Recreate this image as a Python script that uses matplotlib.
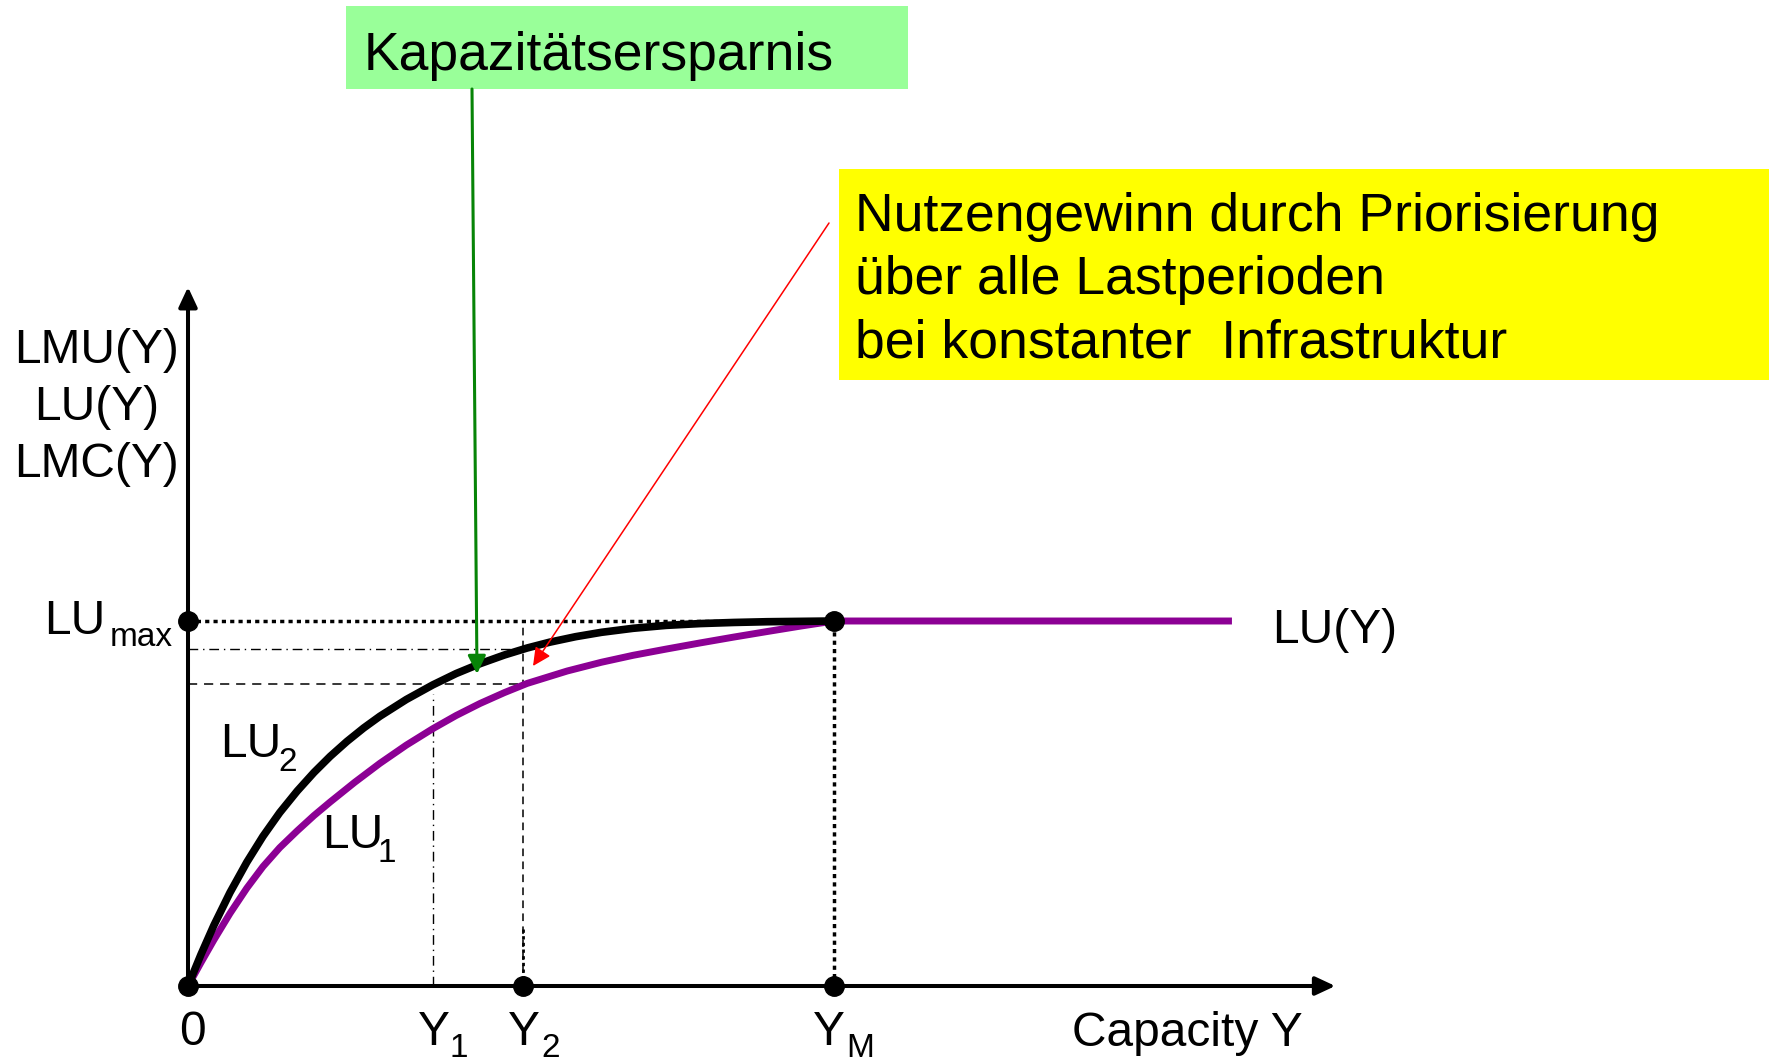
import matplotlib
matplotlib.use("Agg")
import matplotlib.pyplot as plt
from matplotlib.patches import Rectangle

plt.rcParams['font.family'] = ['Liberation Sans', 'DejaVu Sans']

# ---------------- data (normalised: Y_M = 1, LU_max = 1) ----------------
cap_lu2 = [0.0, 0.020, 0.040, 0.065, 0.091, 0.116, 0.142, 0.169, 0.195, 0.220,
           0.246, 0.272, 0.297, 0.338, 0.379, 0.415, 0.452, 0.490, 0.525, 0.560,
           0.600, 0.640, 0.689, 0.740, 0.793, 0.845, 0.896, 0.948, 1.0]
lu2 = [0.0, 0.086, 0.166, 0.256, 0.339, 0.410, 0.475, 0.534, 0.585, 0.629,
       0.670, 0.707, 0.739, 0.785, 0.825, 0.856, 0.883, 0.907, 0.926, 0.942,
       0.957, 0.969, 0.980, 0.988, 0.993, 0.996, 0.998, 0.999, 1.0]

cap_lu1 = [0.0, 0.020, 0.040, 0.065, 0.091, 0.116, 0.142, 0.169, 0.195, 0.220,
           0.258, 0.297, 0.338, 0.379, 0.415, 0.452, 0.490, 0.525, 0.587, 0.640,
           0.689, 0.740, 0.793, 0.845, 0.896, 0.948, 1.0, 1.616]
lu1 = [0.0, 0.064, 0.126, 0.199, 0.268, 0.327, 0.379, 0.425, 0.467, 0.504,
       0.558, 0.610, 0.660, 0.705, 0.741, 0.774, 0.804, 0.829, 0.863, 0.887,
       0.906, 0.923, 0.940, 0.956, 0.971, 0.986, 1.0, 1.0]

LU_MAX = 1.0
Y1, Y2, YM = 0.379, 0.519, 1.0
LEVEL_DASH = 0.827      # LU2(Y1) = LU1(Y2)
LEVEL_DASHDOT = 0.923   # LU2(Y2)
X_AXIS_END, Y_AXIS_END = 1.776, 1.915

dot_x = [0.0, 0.0, Y2, YM, YM]
dot_y = [0.0, LU_MAX, 0.0, 0.0, LU_MAX]

PURPLE = '#8C0094'
GREEN = '#078407'

# ---------------- figure / axes mapping ----------------
W, H = 1769, 1063
X0, Y0, SX, SY = 188, 986, 646, 365   # pixel position of origin and unit sizes

fig = plt.figure(figsize=(W / 100, H / 100), dpi=100)
ax = fig.add_axes([0, 0, 1, 1])
ax.set_xlim(-X0 / SX, (W - X0) / SX)
ax.set_ylim((Y0 - H) / SY, Y0 / SY)
ax.axis('off')


def P(px, py):
    """layout helper: pixel position -> data coords"""
    return (px - X0) / SX, (Y0 - py) / SY


# ---------------- boxes ----------------
gx0, gy0 = P(346, 89)
gx1, gy1 = P(908, 6)
ax.add_patch(Rectangle((gx0, gy0), gx1 - gx0, gy1 - gy0, facecolor='#99FF99',
                       edgecolor='none', zorder=1))
yx0, yy0 = P(839, 380)
yx1, yy1 = P(1769, 169)
ax.add_patch(Rectangle((yx0, yy0), yx1 - yx0, yy1 - yy0, facecolor='#FFFF00',
                       edgecolor='none', zorder=1))

# ---------------- guide lines ----------------
DOT = (0, (1.2, 1.2))
ax.plot([0, YM], [LU_MAX, LU_MAX], color='k', lw=2.5, ls=DOT,
        dash_capstyle='butt', zorder=2)
ax.plot([YM, YM], [0, LU_MAX], color='k', lw=2.5, ls=DOT,
        dash_capstyle='butt', zorder=2)
ax.plot([0, Y2], [LEVEL_DASHDOT, LEVEL_DASHDOT], color='k', lw=1.0,
        ls=(0, (7, 3.5, 1, 3.5)), zorder=2)
ax.plot([Y1, Y1], [0, 0.80], color='k', lw=1.0,
        ls=(0, (7, 3.5, 1, 3.5)), zorder=2)
ax.plot([0, Y2], [LEVEL_DASH, LEVEL_DASH], color='k', lw=1.1,
        ls=(0, (6, 4.5)), zorder=2)
ax.plot([Y2, Y2], [0, LU_MAX], color='k', lw=1.1,
        ls=(0, (5, 3.5)), zorder=2)
ax.plot([Y2, Y2], [0.02, 0.16], color='k', lw=2.0, ls=(0, (1.2, 1.2)),
        dash_capstyle='butt', zorder=2)

# ---------------- axes arrows ----------------
astyle = '-|>,head_length=0.6,head_width=0.28'
ax.annotate('', xy=(X_AXIS_END, 0), xytext=(0, 0),
            arrowprops=dict(arrowstyle=astyle, lw=2.9, color='k',
                            mutation_scale=20, shrinkA=0, shrinkB=0), zorder=3)
ax.annotate('', xy=(0, Y_AXIS_END), xytext=(0, 0),
            arrowprops=dict(arrowstyle=astyle, lw=2.9, color='k',
                            mutation_scale=20, shrinkA=0, shrinkB=0), zorder=3)

# ---------------- curves ----------------
ax.plot(cap_lu1, lu1, color=PURPLE, lw=5.0, solid_capstyle='butt',
        solid_joinstyle='round', zorder=4)
ax.plot(cap_lu2, lu2, color='k', lw=5.5, solid_capstyle='butt',
        solid_joinstyle='round', zorder=5)
ax.plot(dot_x, dot_y, 'o', color='k', ms=14, zorder=6, clip_on=False)

# ---------------- annotation arrows ----------------
ax.annotate('', xy=P(477, 674), xytext=P(472, 89),
            arrowprops=dict(arrowstyle='-|>,head_length=0.55,head_width=0.27',
                            lw=2.2, color=GREEN, mutation_scale=20,
                            shrinkA=0, shrinkB=0), zorder=7)
ax.annotate('', xy=P(533, 666), xytext=P(829, 223),
            arrowprops=dict(arrowstyle='-|>,head_length=0.55,head_width=0.27',
                            lw=1.1, color='red', mutation_scale=20,
                            shrinkA=0, shrinkB=0), zorder=7)

# ---------------- texts ----------------
BIG = 38.5
LAB = 34.5
SUB = 24


def T(px, py, s, size=LAB, ha='left'):
    x, y = P(px, py)
    ax.text(x, y, s, fontsize=size, ha=ha, va='baseline', color='k', zorder=8)


T(364, 70, 'Kapazitätsersparnis', BIG)
T(855, 231, 'Nutzengewinn durch Priorisierung', BIG)
T(855, 294, 'über alle Lastperioden', BIG)
T(855, 358, 'bei konstanter  Infrastruktur', BIG)

T(97, 363, 'LMU(Y)', ha='center')
T(97, 420, 'LU(Y)', ha='center')
T(97, 477, 'LMC(Y)', ha='center')

T(44, 634, 'LU')
T(110, 646, 'max', SUB)

T(220, 757, 'LU')
T(278, 771, '2', SUB)
T(322, 848, 'LU')
T(378, 862, '1', SUB)

T(192, 1045, '0', ha='center')
T(418, 1045, 'Y')
T(449, 1057, '1', SUB)
T(508, 1045, 'Y')
T(541, 1057, '2', SUB)
T(813, 1045, 'Y')
T(846, 1057, 'M', SUB)
T(1072, 1046, 'Capacity Y')
T(1272, 643, 'LU(Y)')

fig.savefig('out.png', dpi=100)
